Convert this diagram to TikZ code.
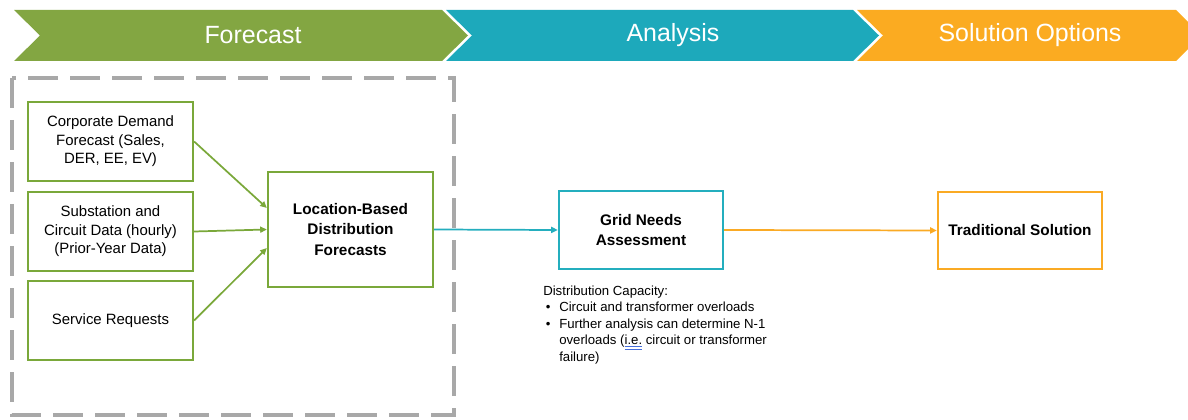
\documentclass[tikz,border=0pt]{standalone}
\usepackage{fontspec}
\setmainfont{Liberation Sans}
\usepackage{xcolor}
\usetikzlibrary{arrows.meta,calc}

\definecolor{fcgreen}{RGB}{131,166,66}
\definecolor{antealv}{RGB}{29,169,187}
\definecolor{soorange}{RGB}{251,171,33}
\definecolor{boxgreen}{RGB}{122,168,58}
\definecolor{boxteal}{RGB}{36,174,190}
\definecolor{boxorange}{RGB}{250,170,36}
\definecolor{dashgray}{RGB}{168,168,168}
\definecolor{markblue}{RGB}{70,110,220}

\newcommand{\spellmark}[1]{\textcolor{markblue}{$\underline{\underline{\hbox{\color{black}#1}}}$}}

\begin{document}
\begin{tikzpicture}[x=0.75pt,y=0.75pt,yscale=-1,xscale=1,
    headtext/.style={text=white, inner sep=0.75pt, font=\fontsize{18.7}{22}\selectfont},
    inbox/.style={draw=boxgreen, line width=1.7pt, inner sep=0pt, align=center,
        minimum width=123.75pt, minimum height=59.25pt, font=\fontsize{11.2}{13.9}\selectfont},
    stepbox/.style={line width=1.7pt, inner sep=0pt, align=center,
        minimum width=123pt, minimum height=58.5pt, font=\bfseries\fontsize{11.5}{15.2}\selectfont},
    greenarrow/.style={draw=boxgreen, line width=1.3pt, -{Triangle[length=5pt,width=4.5pt]}},
    tealarrow/.style={draw=boxteal, line width=1.3pt, -{Triangle[length=5pt,width=4.5pt]}},
    orangearrow/.style={draw=boxorange, line width=1.3pt, -{Triangle[length=5pt,width=4.5pt]}},
    notetext/.style={anchor=base west, inner sep=0pt, font=\fontsize{9.9}{12.2}\selectfont}
  ]
    \useasboundingbox (0,0) rectangle (1188,420);

    %Shape: Chevron Forecast
    \fill [fcgreen] (14,10) -- (442,10) -- (468,35.5) -- (442,61) -- (14,61) -- (40,35.5) -- cycle ;
    %Shape: Chevron Analysis
    \fill [antealv] (446,10) -- (853,10) -- (879,35.5) -- (853,61) -- (446,61) -- (472,35.5) -- cycle ;
    %Shape: Chevron Solution Options
    \fill [soorange] (857,10) -- (1176,10) -- (1202,35.5) -- (1176,61) -- (857,61) -- (883,35.5) -- cycle ;

    % Text Node
    \node [headtext] (hforecast) at (253,35.5) {Forecast};
    % Text Node
    \node [headtext] (hanalysis) at (673,35.5) {Analysis};
    % Text Node
    \node [headtext] (hsolution) at (1030,35.5) {Solution Options};

    %Shape: Dashed Rectangle
    \draw [dashgray, line width=3pt, dash pattern=on 22.5pt off 9pt] (12,78) rectangle (454,415) ;

    % Input boxes
    \node [inbox] (corpfc) at (110.5,141.5) {Corporate Demand\\Forecast (Sales,\\DER, EE, EV)};
    \node [inbox] (substat) at (110.5,231.5) {Substation and\\Circuit Data (hourly)\\(Prior-Year Data)};
    \node [inbox] (servreq) at (110.5,320.5) {Service Requests};

    % Step boxes
    \node [stepbox, draw=boxgreen, minimum width=123.75pt, minimum height=86.25pt] (locfc) at (350.5,229.5) {Location-Based\\Distribution\\Forecasts};
    \node [stepbox, draw=boxteal] (gridna) at (641,230) {Grid Needs\\Assessment};
    \node [stepbox, draw=boxorange, minimum height=57.75pt] (tradsol) at (1020,230.5) {Traditional Solution};

    %Straight Lines
    \draw [greenarrow] (corpfc.east) -- ($(locfc.west)+(0,-21.5)$) ;
    \draw [greenarrow] (substat.east) -- (locfc.west) ;
    \draw [greenarrow] (servreq.east) -- ($(locfc.west)+(0,18.5)$) ;
    \draw [tealarrow] (locfc.east) -- (gridna.west) ;
    \draw [orangearrow] (gridna.east) -- (tradsol.west) ;

    % Text Node
    \node [notetext] (capnote) at (543,295.5) {\begin{tabular}[t]{@{}p{12pt}@{}l@{}}
        \multicolumn{2}{@{}l@{}}{Distribution Capacity:}\\
        \hspace*{2pt}\textbullet & Circuit and transformer overloads\\
        \hspace*{2pt}\textbullet & Further analysis can determine N-1\\
        & overloads (\spellmark{i.e.} circuit or transformer\\
        & failure)
      \end{tabular}};

\end{tikzpicture}
\end{document}
